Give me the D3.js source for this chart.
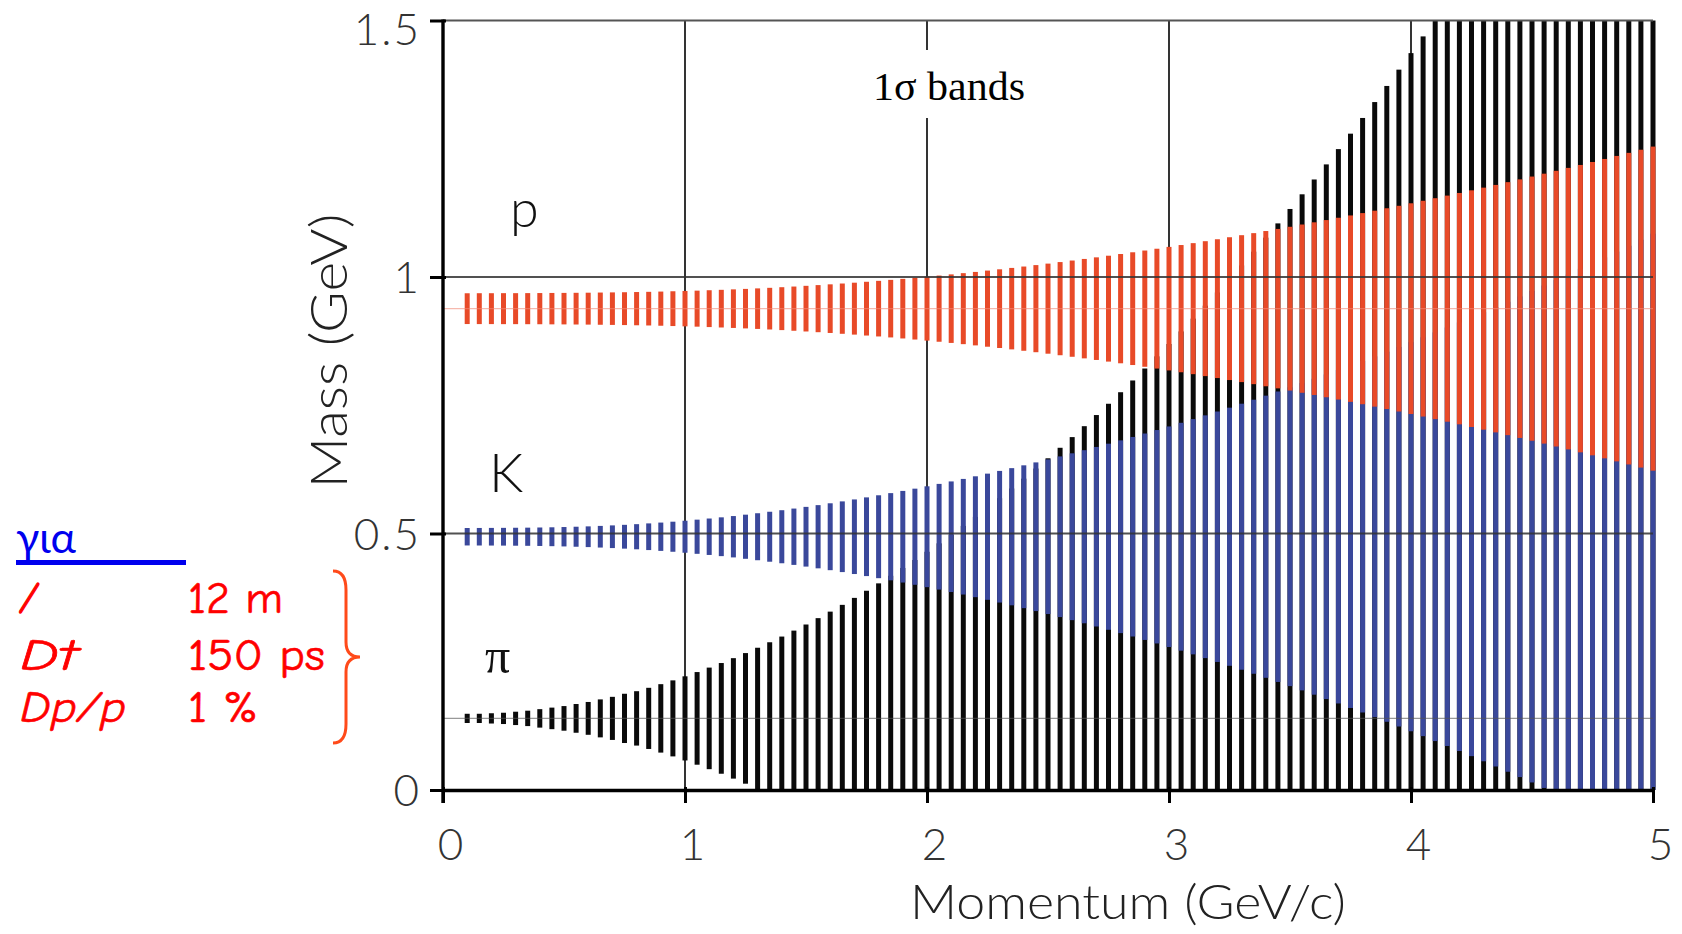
<!DOCTYPE html>
<html>
<head>
<meta charset="utf-8">
<script src="https://cdn.jsdelivr.net/npm/d3@7/dist/d3.min.js"></script>
<style>
  html, body { margin: 0; padding: 0; background: #fff; }
  svg { display: block; }
</style>
</head>
<body>
<svg id="chart" width="1682" height="934"></svg>
<script>
// ---------------- DATA ----------------
const momentum = [0.10,0.15,0.20,0.25,0.30,0.35,0.40,0.45,0.50,0.55,0.60,0.65,0.70,0.75,0.80,0.85,0.90,0.95,
  1.00,1.05,1.10,1.15,1.20,1.25,1.30,1.35,1.40,1.45,1.50,1.55,1.60,1.65,1.70,1.75,1.80,1.85,1.90,1.95,
  2.00,2.05,2.10,2.15,2.20,2.25,2.30,2.35,2.40,2.45,2.50,2.55,2.60,2.65,2.70,2.75,2.80,2.85,2.90,2.95,
  3.00,3.05,3.10,3.15,3.20,3.25,3.30,3.35,3.40,3.45,3.50,3.55,3.60,3.65,3.70,3.75,3.80,3.85,3.90,3.95,
  4.00,4.05,4.10,4.15,4.20,4.25,4.30,4.35,4.40,4.45,4.50,4.55,4.60,4.65,4.70,4.75,4.80,4.85,4.90,4.95,5.00];

const pionMass = 0.1396;
const kaonMass = 0.4937;
const protonMass = 0.9383;

// 1-sigma half widths of each band (GeV), one per momentum value
const pionSigma = [0.009,0.009,0.010,0.011,0.013,0.015,0.018,0.021,0.024,0.028,0.032,0.037,0.042,0.048,0.0530,0.0596,0.0667,0.0741,
  0.0820,0.0903,0.0990,0.1079,0.1174,0.1273,0.1377,0.1484,0.1595,0.1711,0.1830,0.1954,0.2081,0.2213,0.2349,0.2488,0.2632,0.2780,0.2932,0.3088,
  0.3248,0.3412,0.3580,0.3752,0.3928,0.4108,0.4293,0.4481,0.4673,0.4870,0.5070,0.5275,0.5483,0.5696,0.5913,0.6133,0.6358,0.6587,0.6820,0.7057,
  0.7298,0.7543,0.7792,0.8045,0.8302,0.8563,0.8829,0.9098,0.9371,0.9649,0.9930,1.0216,1.0505,1.0799,1.1097,1.1398,1.1704,1.2014,1.2328,1.2646,
  1.2968,1.3294,1.3624,1.3958,1.4296,1.4638,1.4985,1.5335,1.5689,1.6048,1.6410,1.6777,1.7147,1.7522,1.7901,1.8283,1.8670,1.9061,1.9456,1.9855,2.0258];

const kaonSigma = [0.0170,0.0171,0.0172,0.0173,0.0175,0.0177,0.0180,0.0184,0.0189,0.0195,0.0202,0.0211,0.0221,0.0232,0.0245,0.0260,0.0276,0.0293,
  0.0312,0.0333,0.0355,0.0378,0.0403,0.0430,0.0458,0.0487,0.0517,0.0549,0.0582,0.0616,0.0652,0.0689,0.0727,0.0767,0.0808,0.0850,0.0893,0.0937,
  0.0983,0.1030,0.1078,0.1127,0.1178,0.1230,0.1283,0.1337,0.1392,0.1449,0.1507,0.1566,0.1626,0.1687,0.1750,0.1814,0.1879,0.1945,0.2012,0.2080,
  0.2150,0.2221,0.2293,0.2366,0.2441,0.2516,0.2593,0.2671,0.2750,0.2831,0.2912,0.2995,0.3079,0.3164,0.3250,0.3338,0.3426,0.3516,0.3607,0.3699,
  0.3792,0.3887,0.3983,0.4079,0.4177,0.4277,0.4377,0.4479,0.4581,0.4685,0.4790,0.4897,0.5004,0.5113,0.5222,0.5333,0.5446,0.5559,0.5673,0.5789,0.5906];

const protonSigma = [0.0300,0.0301,0.0301,0.0302,0.0302,0.0303,0.0304,0.0306,0.0307,0.0309,0.0311,0.0314,0.0317,0.0320,0.0324,0.0328,0.0333,0.0339,
  0.0345,0.0351,0.0359,0.0367,0.0376,0.0385,0.0395,0.0406,0.0418,0.0431,0.0445,0.0459,0.0474,0.0490,0.0506,0.0524,0.0542,0.0561,0.0581,0.0602,
  0.0623,0.0645,0.0668,0.0692,0.0716,0.0742,0.0767,0.0794,0.0821,0.0849,0.0878,0.0908,0.0938,0.0969,0.1000,0.1032,0.1065,0.1099,0.1133,0.1168,
  0.1204,0.1240,0.1277,0.1315,0.1353,0.1392,0.1432,0.1472,0.1513,0.1554,0.1596,0.1640,0.1683,0.1727,0.1772,0.1817,0.1863,0.1910,0.1957,0.2005,
  0.2054,0.2103,0.2153,0.2204,0.2255,0.2307,0.2359,0.2412,0.2466,0.2520,0.2575,0.2631,0.2687,0.2744,0.2801,0.2859,0.2918,0.2977,0.3037,0.3098,0.3159];

const xTickValues = [0,1,2,3,4,5];
const xTickLabels = ["0","1","2","3","4","5"];
const yTickValues = [0,0.5,1,1.5];
const yTickLabels = ["0","0.5","1","1.5"];

const paramNames = ["/", "Dt", "Dp/p"];
const paramValues = ["12 m", "150 ps", "1 %"];

// ---------------- DRAW ----------------
const svg = d3.select("#chart");
const x = d3.scaleLinear().domain([0, 5]).range([443, 1653]);
const y = d3.scaleLinear().domain([0, 1.5]).range([790, 20.5]).clamp(true);

const axisFont = "Lato, 'Noto Sans', sans-serif";
const barW = 5;

// vertical grid lines (behind the bands)
svg.append("g").selectAll("line").data([1,2,3,4]).join("line")
  .attr("x1", d => x(d)).attr("x2", d => x(d))
  .attr("y1", y(1.5)).attr("y2", y(0))
  .attr("stroke", "#000").attr("stroke-width", 1.6);

function drawBand(sigma, mass, color, cls) {
  const data = momentum.map((p, i) => ({ p, lo: mass - sigma[i], hi: mass + sigma[i] }));
  svg.append("g").attr("class", cls).selectAll("rect").data(data).join("rect")
    .attr("x", d => x(d.p) - barW / 2)
    .attr("width", barW)
    .attr("y", d => y(d.hi))
    .attr("height", d => Math.max(0, y(d.lo) - y(d.hi)))
    .attr("fill", color);
}
drawBand(pionSigma, pionMass, "#0a0a0a", "pion");
drawBand(kaonSigma, kaonMass, "#3a489b", "kaon");
drawBand(protonSigma, protonMass, "#e84a28", "proton");

// thin centre lines of the pion and proton masses
svg.append("line").attr("x1", x(0)).attr("x2", x(5))
  .attr("y1", y(pionMass)).attr("y2", y(pionMass))
  .attr("stroke", "#555").attr("stroke-opacity", 0.6).attr("stroke-width", 1.2);
svg.append("line").attr("x1", x(0)).attr("x2", x(5))
  .attr("y1", y(protonMass)).attr("y2", y(protonMass))
  .attr("stroke", "#f08a78").attr("stroke-opacity", 0.6).attr("stroke-width", 1.2);

// horizontal grid lines (over the bands)
svg.append("g").selectAll("line").data([0.5, 1]).join("line")
  .attr("x1", x(0)).attr("x2", x(5))
  .attr("y1", d => y(d)).attr("y2", d => y(d))
  .attr("stroke", "#333").attr("stroke-opacity", 0.85).attr("stroke-width", 2.2);
// top frame line
svg.append("line").attr("x1", x(0)).attr("x2", x(5))
  .attr("y1", y(1.5)).attr("y2", y(1.5))
  .attr("stroke", "#555").attr("stroke-width", 2.2);

// x axis
const xAxis = d3.axisBottom(x).tickValues(xTickValues)
  .tickFormat((d, i) => xTickLabels[i]).tickSize(13).tickSizeOuter(0);
const gx = svg.append("g").attr("transform", `translate(0,${y(0)})`).call(xAxis);
gx.select(".domain").attr("stroke", "#000").attr("stroke-width", 3.4);
gx.selectAll(".tick line").attr("stroke", "#000").attr("stroke-width", 3).attr("y1", -3);
gx.selectAll(".tick text")
  .attr("x", 7).attr("y", 70).attr("dy", null)
  .attr("font-family", axisFont).attr("font-weight", 300)
  .attr("font-size", 44).attr("fill", "#333");

// y axis
const yAxis = d3.axisLeft(y).tickValues(yTickValues)
  .tickFormat((d, i) => yTickLabels[i]).tickSize(13).tickSizeOuter(0);
const gy = svg.append("g").attr("transform", `translate(${x(0)},0)`).call(yAxis);
gy.select(".domain").remove();
gy.selectAll(".tick line").attr("stroke", "#000").attr("stroke-width", 3).attr("x1", 3);
gy.selectAll(".tick text")
  .attr("x", -22).attr("dy", "0.36em")
  .attr("y", d => d === 1.5 ? 8 : 0)
  .attr("font-family", axisFont).attr("font-weight", 300)
  .attr("font-size", 44).attr("fill", "#333").attr("letter-spacing", 2);
svg.append("line").attr("x1", x(0)).attr("x2", x(0))
  .attr("y1", y(1.5) - 1).attr("y2", y(0) + 13)
  .attr("stroke", "#000").attr("stroke-width", 3.4);

// axis titles
svg.append("text").attr("x", 1128).attr("y", 919)
  .attr("text-anchor", "middle").attr("font-family", axisFont).attr("font-weight", 300)
  .attr("font-size", 48).attr("fill", "#222")
  .attr("textLength", 436).attr("lengthAdjust", "spacingAndGlyphs")
  .text("Momentum (GeV/c)");
svg.append("text").attr("transform", "translate(347,351) rotate(-90)")
  .attr("text-anchor", "middle").attr("font-family", axisFont).attr("font-weight", 300)
  .attr("font-size", 52).attr("fill", "#222")
  .attr("textLength", 275).attr("lengthAdjust", "spacingAndGlyphs")
  .text("Mass (GeV)");

// "1σ bands" with white background
svg.append("rect").attr("x", 866).attr("y", 50).attr("width", 164).attr("height", 68).attr("fill", "#fff");
svg.append("text").attr("x", 873).attr("y", 100)
  .attr("font-family", "'Liberation Serif', 'DejaVu Serif', serif")
  .attr("font-size", 40).attr("fill", "#000")
  .attr("textLength", 152).attr("lengthAdjust", "spacingAndGlyphs")
  .text("1σ bands");

// particle labels
svg.append("text").attr("x", 510).attr("y", 227)
  .attr("font-family", axisFont).attr("font-weight", 300).attr("font-size", 52).attr("fill", "#111")
  .text("p");
svg.append("text").attr("x", 489).attr("y", 492)
  .attr("font-family", axisFont).attr("font-weight", 300).attr("font-size", 54).attr("fill", "#111")
  .text("K");
svg.append("text").attr("x", 485).attr("y", 673)
  .attr("font-family", "'Liberation Serif', 'DejaVu Serif', serif").attr("font-size", 50).attr("fill", "#111")
  .text("π");

// left annotation
const noteFont = "'Comic Sans MS', 'Comic Neue', Lato, 'Noto Sans', sans-serif";
svg.append("text").attr("x", 16).attr("y", 553)
  .attr("font-family", noteFont).attr("font-size", 42).attr("fill", "#0000ee")
  .attr("textLength", 60).attr("lengthAdjust", "spacingAndGlyphs")
  .text("για");
svg.append("rect").attr("x", 16).attr("y", 560).attr("width", 170).attr("height", 5).attr("fill", "#0000ee");

const rowBase = [613, 670, 722];
const nameLen = [17, 58, 106];
const valLen = [95, 137, 70];
paramNames.forEach((n, i) => {
  svg.append("text").attr("x", 20).attr("y", rowBase[i])
    .attr("font-family", noteFont).attr("font-style", "italic").attr("font-size", 44).attr("fill", "#ff0000")
    .attr("textLength", nameLen[i]).attr("lengthAdjust", "spacingAndGlyphs")
    .attr("stroke", "#ff0000").attr("stroke-width", i === 0 ? 1.5 : 0.6)
    .text(n);
  svg.append("text").attr("x", 188).attr("y", rowBase[i])
    .attr("font-family", noteFont).attr("font-size", 44).attr("fill", "#ff0000")
    .attr("stroke", "#ff0000").attr("stroke-width", 0.6)
    .attr("textLength", valLen[i]).attr("lengthAdjust", "spacingAndGlyphs")
    .text(paramValues[i]);
});

// curly brace
svg.append("path")
  .attr("d", "M333,571 C342,571 346,577 346,590 L346,642 C346,652 351,657 360,657 C351,657 346,662 346,672 L346,724 C346,737 342,743 333,743")
  .attr("fill", "none").attr("stroke", "#ff4a1a").attr("stroke-width", 3);
</script>
</body>
</html>
